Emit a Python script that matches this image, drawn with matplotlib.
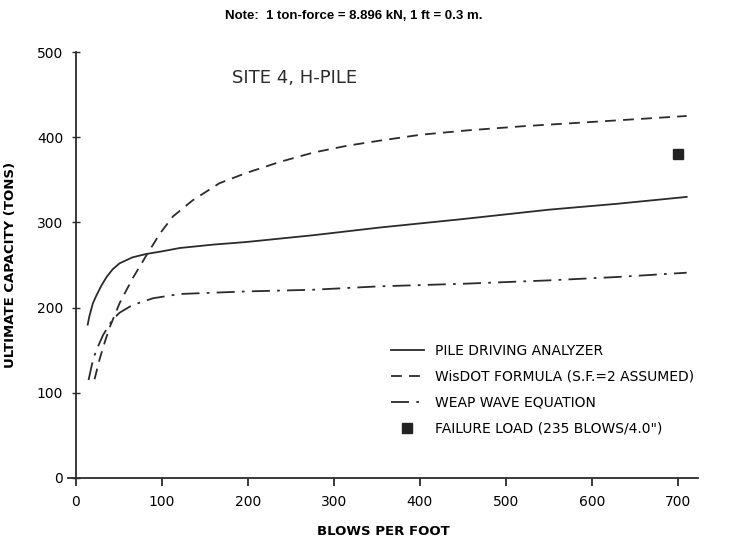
import matplotlib.pyplot as plt

# Site 4, H-pile: ultimate capacity vs driving resistance
pda_x = [14, 16, 20, 24, 30, 36, 43, 51, 66, 82, 100, 121, 160, 198, 276, 353, 450, 550, 630, 710]
pda_y = [180, 190, 205, 214, 226, 236, 245, 252, 259, 263, 266, 270, 274, 277, 285, 294, 304, 315, 322, 330]

wis_x = [22, 28, 34, 40, 51, 66, 82, 98, 113, 136, 167, 198, 237, 276, 315, 353, 401, 454, 520, 600, 710]
wis_y = [116, 140, 160, 178, 205, 234, 261, 287, 307, 326, 346, 358, 371, 382, 390, 396, 403, 408, 413, 418, 425]

weap_x = [15, 20, 24, 32, 43, 51, 66, 90, 121, 198, 276, 353, 450, 550, 630, 710]
weap_y = [115, 138, 150, 168, 186, 194, 203, 211, 216, 219, 221, 225, 228, 232, 236, 241]

fail_x = [700]
fail_y = [380]

xticks = [0, 100, 200, 300, 400, 500, 600, 700]
yticks = [0, 100, 200, 300, 400, 500]

ink = '#2b2b2b'

fig = plt.figure(figsize=(7.3, 5.42), dpi=100)
ax = fig.add_axes([0.093, 0.115, 0.863, 0.792])

ax.plot(pda_x, pda_y, color=ink, lw=1.3, label='PILE DRIVING ANALYZER')
ax.plot(wis_x, wis_y, color=ink, lw=1.3, linestyle=(0, (6, 4)),
        label='WisDOT FORMULA (S.F.=2 ASSUMED)')
ax.plot(weap_x, weap_y, color=ink, lw=1.3, linestyle=(0, (10, 4, 1.5, 4)),
        label='WEAP WAVE EQUATION')
ax.plot(fail_x, fail_y, linestyle='none', marker='s', ms=7, color='#222222',
        label='FAILURE LOAD (235 BLOWS/4.0")')

ax.set_xlim(-9, 723)
ax.set_ylim(-2, 502)
ax.spines['top'].set_visible(False)
ax.spines['right'].set_visible(False)
ax.spines['left'].set_position(('data', 0))
ax.spines['bottom'].set_position(('data', 0))
ax.spines['left'].set_bounds(0, 500)
for s in ('left', 'bottom'):
    ax.spines[s].set_color(ink)
    ax.spines[s].set_linewidth(1.3)

ax.set_xticks(xticks)
ax.set_yticks(yticks)
ax.tick_params(axis='x', direction='out', length=6, width=1.3, color=ink,
               labelsize=10, pad=6)
ax.tick_params(axis='y', direction='inout', length=6, width=1.0, color=ink,
               labelsize=10, pad=6)

ax.set_xlabel('BLOWS PER FOOT', fontsize=9.5, fontweight='bold', labelpad=12)
ax.set_ylabel('ULTIMATE CAPACITY (TONS)', fontsize=9.5, fontweight='bold', labelpad=14)

ax.text(0.36, 0.935, 'SITE 4, H-PILE', transform=ax.transAxes, fontsize=13,
        ha='center', va='center', color=ink)

fig.text(0.484, 0.97, 'Note:  1 ton-force = 8.896 kN, 1 ft = 0.3 m.',
         family='Liberation Sans', fontweight='bold', fontsize=9.5,
         ha='center', va='center')

ax.legend(loc='upper left', bbox_to_anchor=(0.535, 0.365),
          bbox_transform=fig.transFigure, frameon=False, fontsize=10,
          handlelength=2.4, labelspacing=0.85, handletextpad=0.8,
          borderpad=0, borderaxespad=0)

fig.savefig('out.png', dpi=100)
